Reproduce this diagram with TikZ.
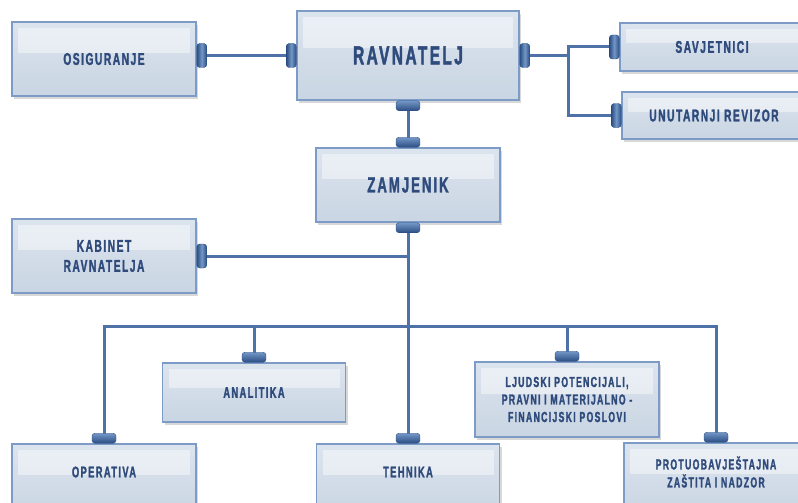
\documentclass[tikz,border=0pt]{standalone}
\usepackage{fontspec}
\newfontfamily\boxfont[FakeStretch=0.6,LetterSpace=9,FakeBold=1.6]{Liberation Sans Bold}
\usetikzlibrary{shadows,calc}
\definecolor{txt}{HTML}{2F4B7C}
\definecolor{boxborder}{HTML}{7C9BC6}
\definecolor{boxtop}{HTML}{DCE4EE}
\definecolor{boxbot}{HTML}{C9D5E3}
\definecolor{linec}{HTML}{4E72A8}
\definecolor{captop}{HTML}{7397C6}
\definecolor{capbot}{HTML}{2B4D83}
\begin{document}
\begin{tikzpicture}[x=1pt,y=-1pt,
  box/.style={draw=boxborder, line width=1.1pt, top color=boxtop, bottom color=boxbot,
    minimum width=184pt, minimum height=74pt, inner sep=0pt, align=center,
    font=\boxfont\fontsize{17}{20}\selectfont, text=txt,
    drop shadow={opacity=0.3, shadow xshift=2pt, shadow yshift=-3pt},
    path picture={\fill[white,opacity=0.45]
      ([xshift=6pt,yshift=-6pt]path picture bounding box.north west) rectangle
      ($([xshift=-6pt]path picture bounding box.north east)!0.42!([xshift=-6pt]path picture bounding box.south east)$);}},
  lbl/.style={inner sep=0pt, align=center, text=txt, font=\boxfont\fontsize{15.5}{18}\selectfont},
  conn/.style={draw=linec, line width=3pt},
  capv/.style={minimum width=24pt, minimum height=10pt, inner sep=0pt, rounded corners=3pt,
    top color=captop, bottom color=capbot, draw=capbot, line width=0.4pt},
  caph/.style={minimum width=10pt, minimum height=24pt, inner sep=0pt, rounded corners=3pt,
    left color=capbot, right color=capbot, middle color=captop, draw=capbot, line width=0.4pt}
]
\useasboundingbox[fill=white] (0,0) rectangle (798,503);

% boxes
\node[box] (osig) at (104,59) {OSIGURANJE};
\node[box, minimum width=222pt, minimum height=89pt, font=\boxfont\fontsize{26}{30}\selectfont] (ravn) at (408,55.5) {RAVNATELJ};
\node[box, minimum height=48pt] (savj) at (712,47) {SAVJETNICI};
\node[box, minimum height=47pt] (rev) at (714,115.5) {UNUTARNJI REVIZOR};
\node[box, font=\boxfont\fontsize{22}{26}\selectfont] (zam) at (408,185) {ZAMJENIK};
\node[box, font=\boxfont\fontsize{17}{20}\selectfont] (kab) at (104,256) {KABINET\\RAVNATELJA};
\node[box, minimum width=183pt, minimum height=59pt, font=\boxfont\fontsize{15.5}{18}\selectfont] (anal) at (254,392.5) {ANALITIKA};
\node[box, minimum height=75pt, font=\boxfont\fontsize{14.5}{17.5}\selectfont] (ljud) at (567,399.5) {LJUDSKI POTENCIJALI,\\PRAVNI I MATERIJALNO -\\FINANCIJSKI POSLOVI};
\node[box] (oper) at (104,481) {};
\node[box, minimum width=183pt] (tehn) at (408,481) {};
\node[box] (prot) at (716,480) {};
\node[lbl] (operT) at (104,472) {OPERATIVA};
\node[lbl] (tehnT) at (408,472) {TEHNIKA};
\node[lbl, font=\boxfont\fontsize{14.5}{18}\selectfont] (protT) at (716,472) {PROTUOBAVJEŠTAJNA\\ZAŠTITA I NADZOR};

% connectors
\coordinate (j1) at (568,55.5);
\coordinate (bus) at (408,326);
\draw[conn] (osig.east |- ravn.west) -- (ravn.west);
\draw[conn] (ravn.east) -- (j1);
\draw[conn] (savj.west) -| (j1) |- (rev.west);
\draw[conn] (ravn.south) -- (zam.north);
\draw[conn] (zam.south) -- (bus);
\draw[conn] (kab.east) -- (kab.east -| bus);
\draw[conn] (bus) -| (oper.north);
\draw[conn] (bus) -| (prot.north);
\draw[conn] (bus) -| (anal.north);
\draw[conn] (bus) -| (ljud.north);
\draw[conn] (bus) -- (tehn.north);

% caps
\node[caph, anchor=west] (c1) at (osig.east |- ravn.west) {};
\node[caph, anchor=east] (c2) at (ravn.west) {};
\node[caph, anchor=west] (c3) at (ravn.east) {};
\node[caph, anchor=east] (c4) at (savj.west) {};
\node[caph, anchor=east] (c5) at (rev.west) {};
\node[capv, anchor=north] (c6) at (ravn.south) {};
\node[capv, anchor=south] (c7) at (zam.north) {};
\node[capv, anchor=north] (c8) at (zam.south) {};
\node[caph, anchor=west] (c9) at (kab.east) {};
\node[capv, anchor=south] (c10) at (oper.north) {};
\node[capv, anchor=south] (c11) at (anal.north) {};
\node[capv, anchor=south] (c12) at (tehn.north) {};
\node[capv, anchor=south] (c13) at (ljud.north) {};
\node[capv, anchor=south] (c14) at (prot.north) {};
\end{tikzpicture}
\end{document}
